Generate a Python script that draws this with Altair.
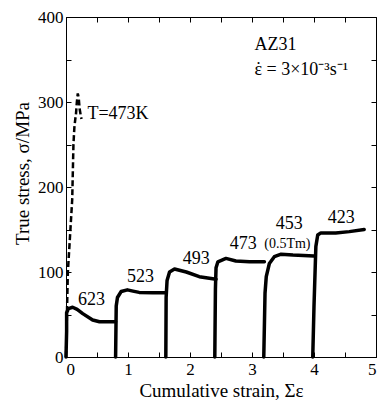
import altair as alt
import pandas as pd

# ---- data ----
# dashed curve, T = 473 K
d473_x = [0.0, 0.03, 0.10, 0.12, 0.135, 0.15, 0.16, 0.175, 0.19, 0.205, 0.22, 0.24, 0.25]
d473_y = [0, 100, 185, 250, 270, 280, 285, 300, 310, 305, 292, 283, 280]

# solid segments (cumulative strain, true stress)
seg623_x = [0.0, 0.01, 0.01, 0.04, 0.107, 0.18, 0.27, 0.43, 0.54, 0.66, 0.80]
seg623_y = [0, 30, 52, 57, 58.5, 56, 51, 43.5, 41.5, 41.5, 41.5]
seg523_x = [0.80, 0.81, 0.83, 0.89, 0.99, 1.08, 1.18, 1.40, 1.61]
seg523_y = [0, 60, 70, 77, 79, 77.5, 76, 75.6, 75.6]
seg493_x = [1.61, 1.615, 1.63, 1.67, 1.75, 1.94, 2.15, 2.42]
seg493_y = [0, 70, 90, 100, 103.5, 100, 94.5, 91.4]
seg473_x = [2.40, 2.41, 2.42, 2.45, 2.58, 2.74, 2.96, 3.20]
seg473_y = [0, 80, 105, 112, 116, 113, 112, 112]
seg453_x = [3.19, 3.21, 3.23, 3.28, 3.36, 3.47, 3.66, 4.00]
seg453_y = [0, 75, 94.5, 110, 118, 121, 120, 118.8]
seg423_x = [3.98, 4.00, 4.03, 4.06, 4.11, 4.35, 4.57, 4.81]
seg423_y = [0, 60, 130, 143.5, 146, 146, 147.5, 150]

seg_names = ["623", "523", "493", "473", "453", "423"]
seg_xs = [seg623_x, seg523_x, seg493_x, seg473_x, seg453_x, seg423_x]
seg_ys = [seg623_y, seg523_y, seg493_y, seg473_y, seg453_y, seg423_y]

# temperature labels
lab_text = ["623", "523", "493", "473", "453", "423"]
lab_x = [0.41, 1.20, 2.10, 2.86, 3.60, 4.44]
lab_y = [67, 94, 115, 133, 156, 164]

small_text = ["(0.5Tm)"]
small_x = [3.57]
small_y = [133]

note_text = ["T=473K", "AZ31", "ε = 3×10⁻³s⁻¹"]
note_x = [0.345, 3.04, 3.04]
note_y = [286, 367, 338]

dot_text = ["˙"]
dot_x = [3.04]
dot_y = [338]

x_ticks = [0, 0.5, 1, 1.5, 2, 2.5, 3, 3.5, 4, 4.5, 5]
y_ticks = [0, 50, 100, 150, 200, 250, 300, 350, 400]

# ---- tables ----
dash_df = pd.DataFrame({"x": d473_x, "y": d473_y, "i": range(len(d473_x))})
rows = []
for name, xs, ys in zip(seg_names, seg_xs, seg_ys):
    for i, (a, b) in enumerate(zip(xs, ys)):
        rows.append({"seg": name, "x": a, "y": b, "i": i})
seg_df = pd.DataFrame(rows)
lab_df = pd.DataFrame({"t": lab_text, "x": lab_x, "y": lab_y})
small_df = pd.DataFrame({"t": small_text, "x": small_x, "y": small_y})
note_df = pd.DataFrame({"t": note_text, "x": note_x, "y": note_y})
dot_df = pd.DataFrame({"t": dot_text, "x": dot_x, "y": dot_y})

FONT = "Liberation Serif"

x_enc = alt.X(
    "x:Q",
    scale=alt.Scale(domain=[0, 5], nice=False, zero=False),
    axis=alt.Axis(
        title="Cumulative strain, Σε",
        values=x_ticks,
        format="~f",
        labelExpr="datum.value % 1 == 0 ? datum.label : ''",
        ticks=False,
        grid=True,
        gridColor="black",
        gridOpacity=1,
        gridWidth=1,
        gridDash=[5, 330, 5, 1000],
        labelPadding=4,
        titleY=33,
        titleBaseline="middle",
    ),
)
y_enc = alt.Y(
    "y:Q",
    scale=alt.Scale(domain=[0, 400], nice=False),
    axis=alt.Axis(
        title="True stress, σ/MPa",
        values=y_ticks,
        format="d",
        labelExpr="datum.value % 100 == 0 ? datum.label : ''",
        ticks=False,
        grid=True,
        gridColor="black",
        gridOpacity=1,
        gridWidth=1,
        gridDash=[5, 300, 5, 1000],
        labelPadding=3,
        titleX=-44,
        titleY=156,
        titleBaseline="middle",
    ),
)

dashed = alt.Chart(dash_df).mark_line(
    color="black", strokeWidth=2.5, strokeDash=[6, 3]
).encode(x=x_enc, y=y_enc, order="i:Q")

solid = alt.Chart(seg_df).mark_line(
    color="black", strokeWidth=3.5, strokeCap="round", strokeJoin="round"
).encode(x=x_enc, y=y_enc, detail="seg:N", order="i:Q")

labels = alt.Chart(lab_df).mark_text(
    font=FONT, fontSize=18, color="black", align="center", baseline="middle"
).encode(x=x_enc, y=y_enc, text="t:N")

small = alt.Chart(small_df).mark_text(
    font=FONT, fontSize=14, color="black", align="center", baseline="middle"
).encode(x=x_enc, y=y_enc, text="t:N")

notes = alt.Chart(note_df).mark_text(
    font=FONT, fontSize=18, color="black", align="left", baseline="middle"
).encode(x=x_enc, y=y_enc, text="t:N")

dot = alt.Chart(dot_df).mark_text(
    font=FONT, fontSize=18, color="black", align="left", baseline="middle", dx=1
).encode(x=x_enc, y=y_enc, text="t:N")

chart = (
    alt.layer(dashed, solid, labels, small, notes, dot)
    .properties(
        width=310,
        height=340,
        autosize=alt.AutoSizeParams(type="none"),
        padding={"left": 66, "top": 17, "right": 2, "bottom": 45},
        background="white",
    )
    .configure_view(stroke="black", strokeWidth=1)
    .configure_axis(
        domainColor="black",
        domainWidth=1,
        labelFont=FONT,
        labelFontSize=17,
        labelColor="black",
        titleFont=FONT,
        titleFontSize=19,
        titleFontWeight="normal",
        titleColor="black",
    )
)

chart.save("out.html", embed_options={"renderer": "svg", "actions": False})
